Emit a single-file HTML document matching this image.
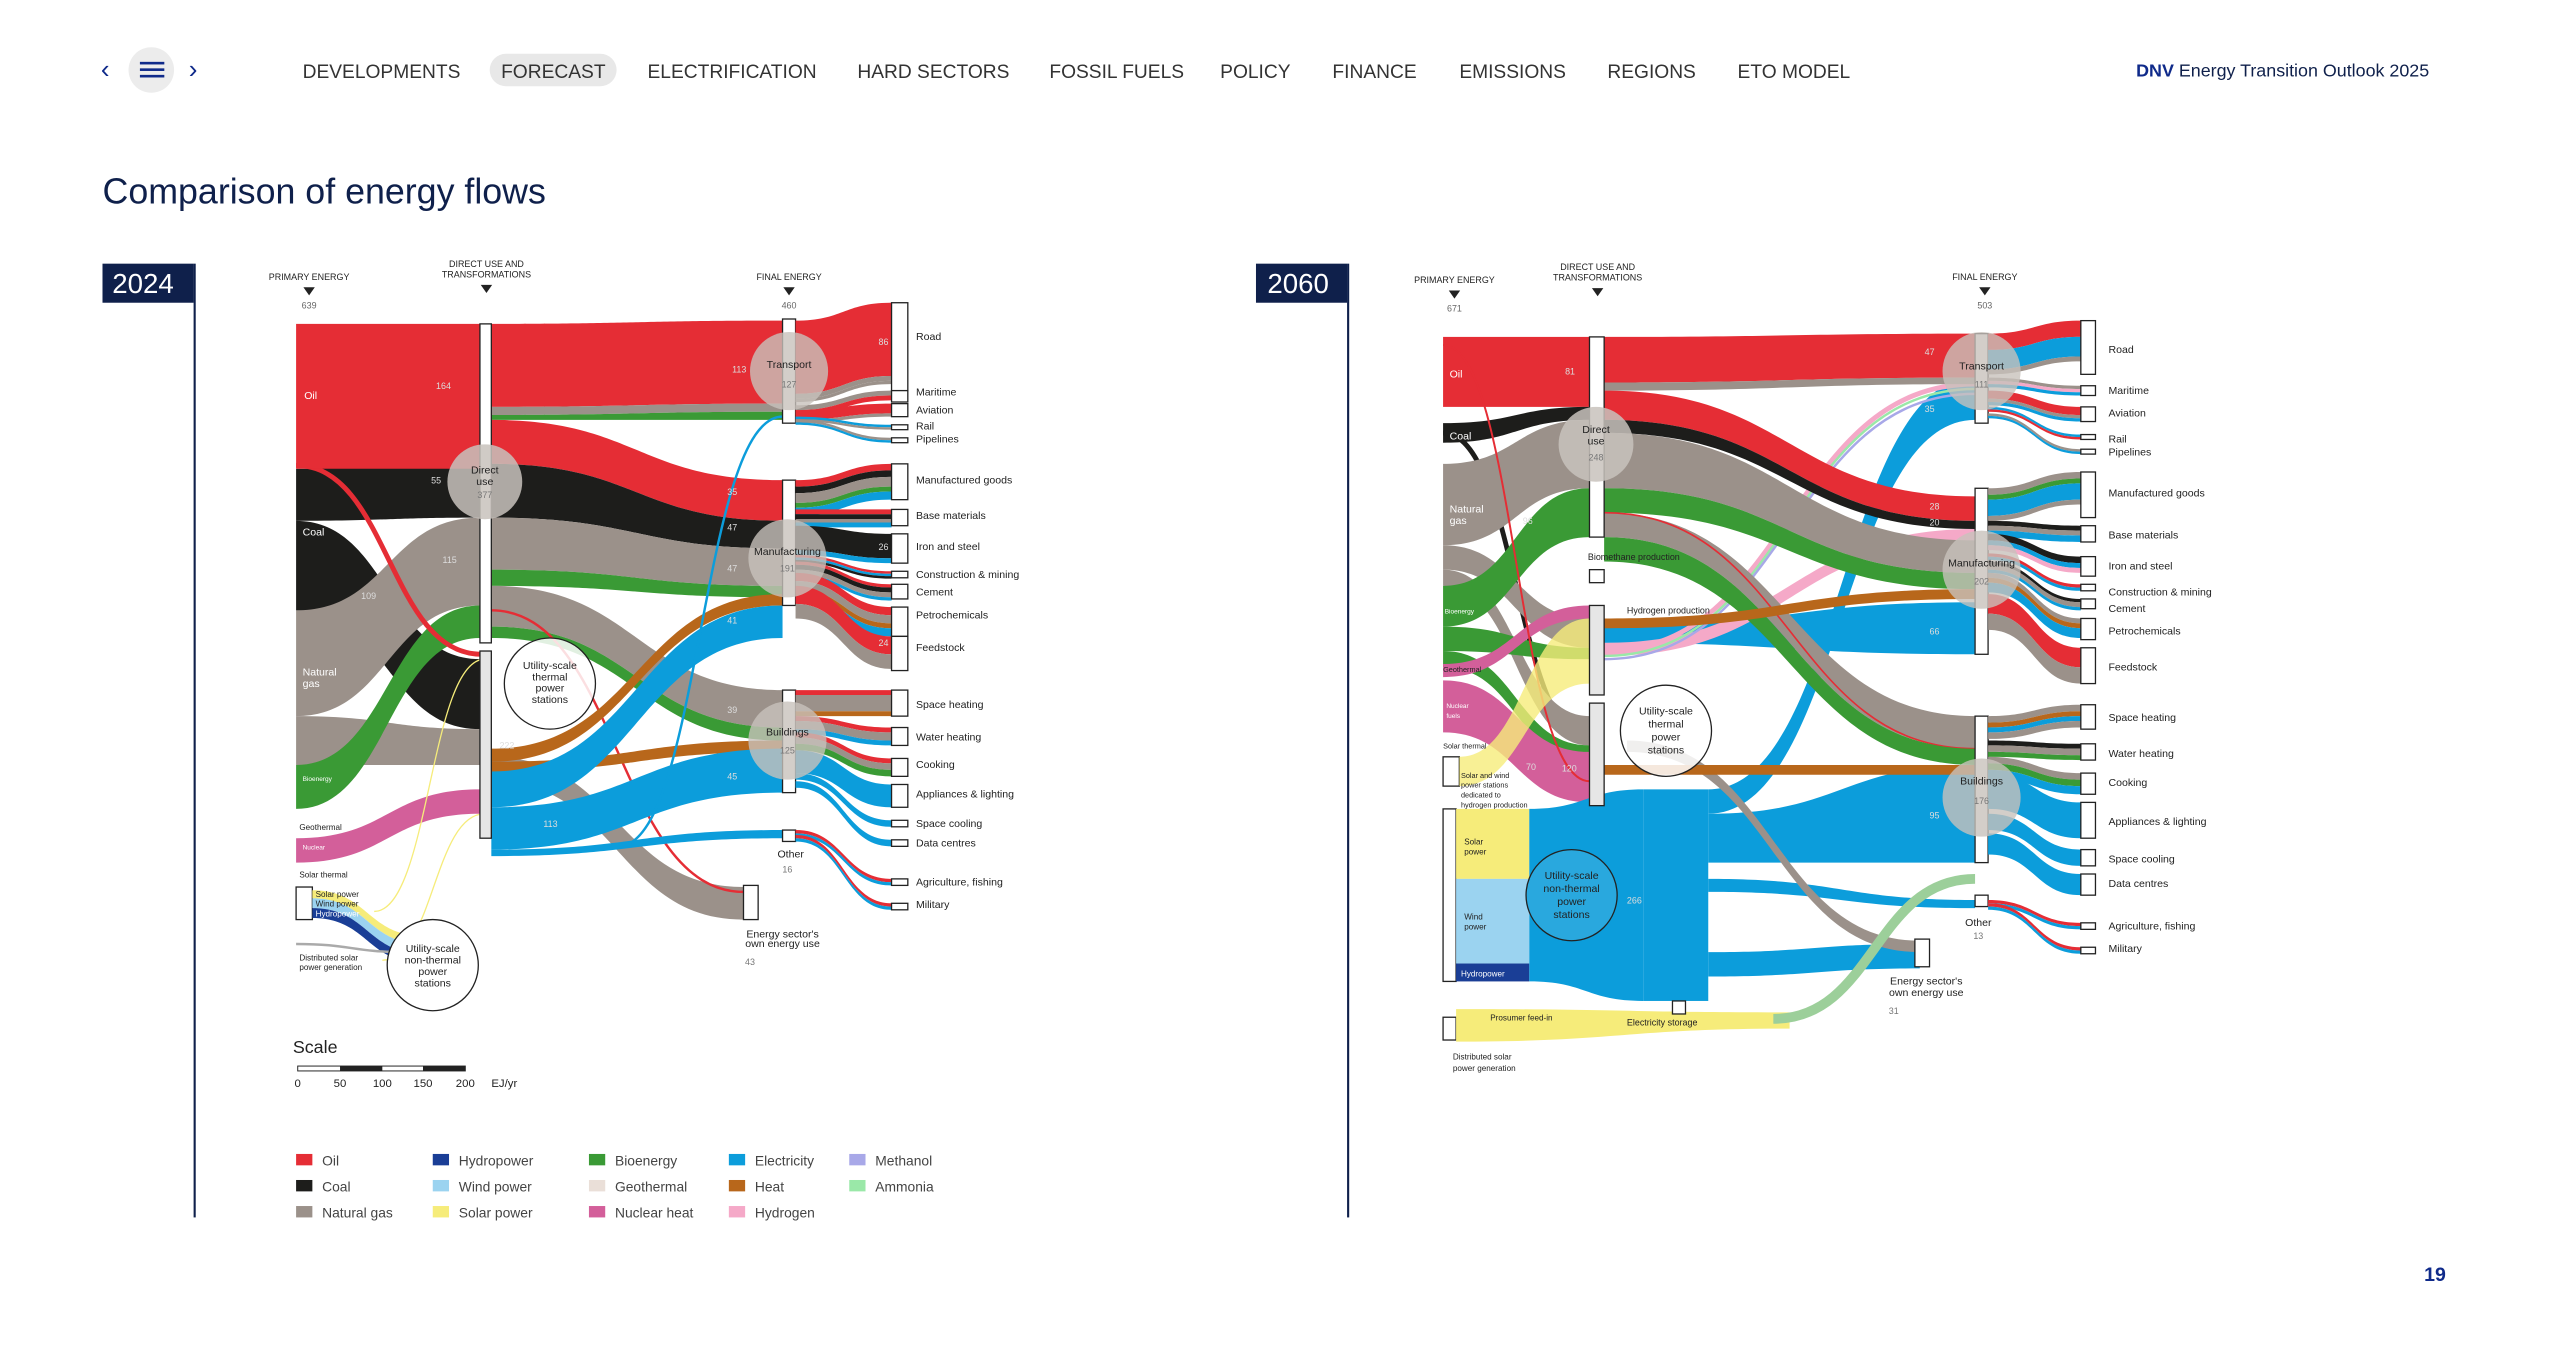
<!DOCTYPE html>
<html><head><meta charset="utf-8">
<style>
html,body{margin:0;padding:0;background:#fff;width:2551px;height:1346px;overflow:hidden}
svg{display:block}
text{font-family:"Liberation Sans",sans-serif}
</style></head>
<body>
<svg id="s" width="2551" height="1346" viewBox="0 0 1568 827" preserveAspectRatio="none" xmlns="http://www.w3.org/2000/svg">
<rect width="1568" height="827" fill="#fff"/>
<!-- nav -->
<text x="62" y="48" font-size="16" fill="#0f2a8a">&#8249;</text>
<circle cx="93" cy="43" r="14" fill="#ececec"/>
<rect x="86" y="38" width="15" height="1.6" fill="#0f2a8a"/><rect x="86" y="42" width="15" height="1.6" fill="#0f2a8a"/><rect x="86" y="46" width="15" height="1.6" fill="#0f2a8a"/>
<text x="116" y="48" font-size="16" fill="#0f2a8a">&#8250;</text>
<rect x="301" y="33" width="78" height="20" rx="10" fill="#e8e8e8"/>
<g font-size="11.8" fill="#333">
<text x="186" y="48">DEVELOPMENTS</text><text x="308" y="48">FORECAST</text><text x="398" y="48">ELECTRIFICATION</text><text x="527" y="48">HARD SECTORS</text><text x="645" y="48">FOSSIL FUELS</text><text x="750" y="48">POLICY</text><text x="819" y="48">FINANCE</text><text x="897" y="48">EMISSIONS</text><text x="988" y="48">REGIONS</text><text x="1068" y="48">ETO MODEL</text>
</g>
<text x="1313" y="47" font-size="11" fill="#0f204b"><tspan font-weight="bold" fill="#0f2a8a">DNV</tspan> Energy Transition Outlook 2025</text>
<text x="63" y="125" font-size="22" fill="#0f204b">Comparison of energy flows</text>
<text x="1490" y="787" font-size="12" fill="#0f2a8a" font-weight="bold">19</text>
<!-- year boxes -->
<rect x="63" y="162" width="56" height="24" fill="#0f204b"/><text x="69" y="180" font-size="17" fill="#fff">2024</text>
<rect x="119" y="162" width="1.3" height="586" fill="#0f204b"/>
<rect x="772" y="162" width="56" height="24" fill="#0f204b"/><text x="779" y="180" font-size="17" fill="#fff">2060</text>
<rect x="828" y="162" width="1.3" height="586" fill="#0f204b"/>
<g id="g"></g>
<g id="t" font-size="6.5" fill="#222"></g>
</svg>
<script>
var g=document.getElementById('g'),T=document.getElementById('t'),NS='http://www.w3.org/2000/svg';
function el(n,a,p){var e=document.createElementNS(NS,n);for(var k in a)e.setAttribute(k,a[k]);(p||g).appendChild(e);return e;}
var R='#e52d35',K='#1d1d1b',G='#9b918a',GR='#3a9a35',B='#0c9ddb',BR='#b8671b',P='#d35f9a',Y='#f6ec7a',NV='#1a3e96',LP='#f5a9c8',LB='#9bd3f0',LV='#a8a8e8',LG='#9ae8a8';
function band(x0,a0,b0,x1,a1,b1,c,o){var m=(x0+x1)/2;el('path',{d:'M'+x0+' '+a0+'C'+m+' '+a0+' '+m+' '+a1+' '+x1+' '+a1+'L'+x1+' '+b1+'C'+m+' '+b1+' '+m+' '+b0+' '+x0+' '+b0+'Z',fill:c,'fill-opacity':o||1});}
function line(x0,y0,x1,y1,c,w){var m=(x0+x1)/2;el('path',{d:'M'+x0+' '+y0+'C'+m+' '+y0+' '+m+' '+y1+' '+x1+' '+y1,fill:'none',stroke:c,'stroke-width':w||1});}
function rect(x,y,w,h,f,s){el('rect',{x:x,y:y,width:w,height:h,fill:f||'#fff',stroke:s||'#222','stroke-width':0.8});}
function txt(x,y,s,o){var e=el('text',{x:x,y:y},T);e.textContent=s;if(o)for(var k in o)e.setAttribute(k,o[k]);return e;}
function circ(x,y,r,f,s,o){el('circle',{cx:x,cy:y,r:r,fill:f,'fill-opacity':o||1,stroke:s||'none','stroke-width':0.8});}
function ends(x0,x1,list){list.forEach(function(d){
 var s=d[0],t=d[1];d[2].forEach(function(st){band(x0,s,s+st[0],x1,t,t+st[0],st[1]);s+=st[0];t+=st[0];});});}

/* ===== 2024 ===== */
band(182,320,375,295,405,448,K);
band(182,440,470,295,448,470,G);
band(182,288,320,295,282,318,K);
band(182,375,440,295,318,372,G);
band(182,470,497,295,372,392,GR);
band(182,515,530,295,485,500,P);
line(182,286,296,402,R,3);
el('rect',{x:182,y:199,width:113,height:89,fill:R});
rect(182,545,10,20);
band(192,547,552,260,575,580,Y);band(192,552,558,260,580,586,LB);band(192,558,564,260,586,592,NV);
line(182,580,250,585,'#aaa',1.5);
line(230,560,298,405,Y,0.8);line(235,590,298,500,Y,0.8);
band(302,199,250,481,197,248,R);
band(302,250,255,481,248,253,G);band(302,255,258,481,253,258,GR);
band(302,258,285,481,295,320,R);
band(302,285,318,481,320,337,K);
band(302,318,350,481,337,360,G);
band(302,350,360,481,360,367,GR);
band(302,360,385,481,424,447,G);
band(302,385,392,481,447,455,GR);
band(302,465,480,457,545,565,G);
line(302,375,457,548,R,1.5);
band(302,460,468,481,365,372,BR);
band(302,468,474,481,455,462,BR);
band(302,474,496,481,372,392,B);
band(302,496,522,481,460,487,B);
band(302,522,526,481,510,515,B);
line(380,520,481,256,B,1.5);
rect(295,199,7,196);el('rect',{x:295,y:400,width:7,height:115,fill:'#e6e6e6',stroke:'#222','stroke-width':0.8});
rect(481,196,8,64);rect(481,295,8,77);rect(481,424,8,63);rect(481,510,8,7);rect(457,544,9,21);
ends(489,548,[[197,186,[[45,R],[3,G],[2,G]]],[249,240,[[3,G],[3,R]]],[252,248,[[6,R],[2,G]]],[256,261,[[1.5,B],[1.5,G]]],[258,269,[[1.5,G],[1.5,B]]],
[295,285,[[4,R],[4,K],[6,G],[3,GR],[5,B]]],[313,313,[[3,R],[3,K],[2,G],[3,B]]],[323,328,[[15,K],[3,B]]],[341,351,[[1.5,R],[1.5,B],[1.5,K]]],[345,359,[[2,R],[3,K],[3,G],[2,B]]],[352,373,[[5,R],[5,G],[3,BR],[5,B]]],[360,391,[[11,R],[9,G]]],
[424,424,[[3,R],[10,G],[3,BR]]],[440,447,[[3,R],[5,G],[3,B]]],[450,466,[[3,R],[4,G],[4,GR]]],[461,482,[[14,B]]],[475,504,[[4,B]]],[480,516,[[4,B]]],[510,540,[[2,R],[2,B]]],[513,555,[[2,R],[2,B]]]]);
[[186,54],[240,7],[248,8],[261,3],[269,3],[285,22],[313,10],[328,18],[351,4],[359,9],[373,18],[391,21],[424,16],[447,11],[466,11],[482,14],[504,4],[516,4],[540,4],[555,4]].forEach(function(b){rect(548,b[0],10,b[1]);});
circ(298,296,23,'#c8c2bc','',0.85);circ(485,228,24,'#c8c2bc','',0.8);circ(484,343,24,'#c8c2bc','',0.8);circ(484,455,24,'#c8c2bc','',0.8);
circ(338,420,28,'#fff','#222',0.85);circ(266,593,28,'#fff','#222');
/* ===== 2060 ===== */
el('rect',{x:887,y:207,width:90,height:43,fill:R});
band(887,260,272,977,250,258,K);line(887,266,977,455,K,3);
band(887,285,335,977,258,300,G);band(887,335,350,977,380,398,G);band(887,350,360,977,440,458,G);
band(887,360,385,977,300,330,GR);band(887,385,400,977,398,405,GR);band(887,400,410,977,458,468,GR);
band(887,408,416,977,372,380,P);band(887,418,450,977,462,493,P);
line(887,212,977,480,R,1.2);
rect(887,465,10,18);band(897,465,483,977,380,420,Y,0.8);
el('rect',{x:887,y:497,width:8,height:106,fill:'#fff',stroke:'#222','stroke-width':0.8});
el('rect',{x:895,y:497,width:45,height:43,fill:Y});el('rect',{x:895,y:540,width:45,height:52,fill:LB});el('rect',{x:895,y:592,width:45,height:11,fill:NV});
band(940,497,603,1010,485,615,B);
el('rect',{x:1010,y:485,width:40,height:130,fill:B});
band(1050,485,500,1214,232,258,B);
band(986,385,395,1214,370,402,B);
band(1050,500,530,1214,470,530,B);
band(1050,585,600,1180,580,595,B);
band(1050,540,548,1214,553,558,B);
band(986,395,403,1214,325,332,LP);
line(986,400,1214,236,LP,3);line(986,403,1214,239,LG,1.5);line(986,405,1214,242,LV,1.5);
band(986,207,235,1214,205,232,R);
band(986,235,240,1214,232,236,G);
band(986,240,258,1214,305,320,R);
band(986,258,266,1214,320,325,K);
band(986,266,300,1214,332,352,G);
band(986,300,315,1214,352,362,GR);
band(986,315,330,1214,440,460,G);line(986,315,1214,460,R,1);
band(986,330,345,1214,460,470,GR);
band(1000,455,462,1180,578,585,G);
band(986,470,476,1214,470,476,BR);
band(986,380,386,1214,362,368,BR);
el('rect',{x:887,y:625,width:8,height:14,fill:'#fff',stroke:'#222','stroke-width':0.8});
band(895,620,640,1100,622,632,Y);
line(1090,626,1214,540,'#9ccf9a',6);
rect(977,207,9,123);rect(977,350,9,8);el('rect',{x:977,y:372,width:9,height:55,fill:'#e6e6e6',stroke:'#222','stroke-width':0.8});el('rect',{x:977,y:432,width:9,height:63,fill:'#e6e6e6',stroke:'#222','stroke-width':0.8});
rect(1214,205,8,55);rect(1214,300,8,102);rect(1214,440,8,90);rect(1214,550,8,7);rect(1177,577,9,17);rect(1028,615,8,8);
ends(1222,1279,[[205,197,[[10,R],[12,B],[3,G]]],[232,237,[[2,G],[2,LP],[2,B]]],[240,250,[[5,R],[2,G],[2,B]]],[250,267,[[1.5,B],[1.5,R]]],[254,276,[[1.5,G],[1.5,B]]],
[300,290,[[4,G],[3,GR],[10,B],[3,G]]],[320,323,[[3,K],[3,G],[4,B]]],[328,342,[[4,K],[3,B],[3,LP]]],[340,359,[[2,R],[2,B]]],[345,368,[[2,K],[3,G],[2,B]]],[352,380,[[3,G],[3,BR],[6,B]]],[365,398,[[12,R],[10,G]]],
[440,433,[[4,G],[3,BR],[3,B],[4,G]]],[455,457,[[3,K],[4,G],[3,GR]]],[465,475,[[4,G],[4,GR],[5,B]]],[475,493,[[22,B]]],[500,522,[[10,B]]],[512,537,[[13,B]]],[553,567,[[2,R],[2,B]]],[555,582,[[2,R],[2,B]]]]);
[[197,33],[237,6],[250,9],[267,3],[276,3],[290,28],[323,10],[342,12],[359,4],[368,6],[380,13],[398,22],[433,15],[457,10],[475,13],[493,22],[522,10],[537,13],[567,4],[582,4]].forEach(function(b){rect(1279,b[0],9,b[1]);});
circ(981,273,23,'#c8c2bc','',0.85);circ(1218,228,24,'#c8c2bc','',0.8);circ(1218,350,24,'#c8c2bc','',0.8);circ(1218,490,24,'#c8c2bc','',0.8);
circ(1024,449,28,'#fff','#222',0.85);circ(966,550,28,'#29a8de','#222');
/* ===== text ===== */
function H(x,y,lines,n){lines.forEach(function(l,i){txt(x,y+i*6.5,l,{'text-anchor':'middle','font-size':'5.5'});});el('path',{d:'M'+(x-3.5)+' '+(y+lines.length*6.5-2)+'h7l-3.5 5z',fill:'#222'},T);txt(x,y+lines.length*6.5+11,n,{'text-anchor':'middle','font-size':'5.5',fill:'#666'});}
H(190,172,['PRIMARY ENERGY'],'639');H(299,164,['DIRECT USE AND','TRANSFORMATIONS'],'');H(485,172,['FINAL ENERGY'],'460');
H(894,174,['PRIMARY ENERGY'],'671');H(982,166,['DIRECT USE AND','TRANSFORMATIONS'],'');H(1220,172,['FINAL ENERGY'],'503');
var W={fill:'#fff'};
txt(187,245,'Oil',W);txt(186,329,'Coal',W);txt(186,415,'Natural',W);txt(186,422,'gas',W);txt(186,480,'Bioenergy',{fill:'#fff','font-size':'4'});
txt(184,510,'Geothermal',{'font-size':'5'});txt(186,522,'Nuclear',{fill:'#fff','font-size':'4'});txt(184,539,'Solar thermal',{'font-size':'5'});
txt(194,551,'Solar power',{'font-size':'5'});txt(194,557,'Wind power',{'font-size':'5'});txt(194,563,'Hydropower',{'font-size':'5',fill:'#fff'});
txt(184,590,'Distributed solar',{'font-size':'5'});txt(184,596,'power generation',{'font-size':'5'});
[[298,291,'Direct'],[298,298,'use'],[485,226,'Transport'],[484,341,'Manufacturing'],[484,452,'Buildings'],[338,411,'Utility-scale'],[338,418,'thermal'],[338,425,'power'],[338,432,'stations'],[266,585,'Utility-scale'],[266,592,'non-thermal'],[266,599,'power'],[266,606,'stations'],[486,527,'Other'],[481,576,"Energy sector's"],[481,582,'own energy use']].forEach(function(a){txt(a[0],a[1],a[2],{'text-anchor':'middle'});});
[[298,306,'377'],[485,238,'127'],[484,351,'191'],[484,463,'125'],[484,536,'16'],[461,593,'43']].forEach(function(a){txt(a[0],a[1],a[2],{'text-anchor':'middle',fill:'#777','font-size':'5.5'});});
[[563,209,'Road'],[563,243,'Maritime'],[563,254,'Aviation'],[563,264,'Rail'],[563,272,'Pipelines'],[563,297,'Manufactured goods'],[563,319,'Base materials'],[563,338,'Iron and steel'],[563,355,'Construction & mining'],[563,366,'Cement'],[563,380,'Petrochemicals'],[563,400,'Feedstock'],[563,435,'Space heating'],[563,455,'Water heating'],[563,472,'Cooking'],[563,490,'Appliances & lighting'],[563,508,'Space cooling'],[563,520,'Data centres'],[563,544,'Agriculture, fishing'],[563,558,'Military']].forEach(function(a){txt(a[0],a[1],a[2]);});
[[268,239,'164'],[450,229,'113'],[540,212,'86'],[447,304,'35'],[447,326,'47'],[447,351,'47'],[222,368,'109'],[272,346,'115'],[265,297,'55'],[540,338,'26'],[447,383,'41'],[540,397,'24'],[447,438,'39'],[447,479,'45'],[307,460,'222'],[334,508,'113']].forEach(function(a){txt(a[0],a[1],a[2],{fill:'#ddd','font-size':'5.5'});});
txt(891,232,'Oil',W);txt(891,270,'Coal',W);txt(891,315,'Natural',W);txt(891,322,'gas',W);txt(888,377,'Bioenergy',{fill:'#fff','font-size':'4'});
txt(887,413,'Geothermal',{'font-size':'4.5'});txt(889,435,'Nuclear',{fill:'#fff','font-size':'4'});txt(889,441,'fuels',{fill:'#fff','font-size':'4'});txt(887,460,'Solar thermal',{'font-size':'4.5'});
txt(898,478,'Solar and wind',{'font-size':'4.5'});txt(898,484,'power stations',{'font-size':'4.5'});txt(898,490,'dedicated to',{'font-size':'4.5'});txt(898,496,'hydrogen production',{'font-size':'4.5'});
txt(900,519,'Solar',{'font-size':'5'});txt(900,525,'power',{'font-size':'5'});txt(900,565,'Wind',{'font-size':'5'});txt(900,571,'power',{'font-size':'5'});txt(898,600,'Hydropower',{'font-size':'5',fill:'#fff'});
txt(893,651,'Distributed solar',{'font-size':'5'});txt(893,658,'power generation',{'font-size':'5'});txt(916,627,'Prosumer feed-in',{'font-size':'5'});
txt(976,344,'Biomethane production',{'font-size':'5.5'});txt(1000,377,'Hydrogen production',{'font-size':'5.5'});txt(1000,630,'Electricity storage',{'font-size':'5.5'});
[[981,266,'Direct'],[981,273,'use'],[1218,227,'Transport'],[1218,348,'Manufacturing'],[1218,482,'Buildings'],[1024,439,'Utility-scale'],[1024,447,'thermal'],[1024,455,'power'],[1024,463,'stations'],[966,540,'Utility-scale'],[966,548,'non-thermal'],[966,556,'power'],[966,564,'stations'],[1216,569,'Other'],[1184,605,"Energy sector's"],[1184,612,'own energy use']].forEach(function(a){txt(a[0],a[1],a[2],{'text-anchor':'middle'});});
[[981,283,'248'],[1218,238,'111'],[1218,359,'202'],[1218,494,'176'],[1216,577,'13'],[1164,623,'31']].forEach(function(a){txt(a[0],a[1],a[2],{'text-anchor':'middle',fill:'#777','font-size':'5.5'});});
[[1296,217,'Road'],[1296,242,'Maritime'],[1296,256,'Aviation'],[1296,272,'Rail'],[1296,280,'Pipelines'],[1296,305,'Manufactured goods'],[1296,331,'Base materials'],[1296,350,'Iron and steel'],[1296,366,'Construction & mining'],[1296,376,'Cement'],[1296,390,'Petrochemicals'],[1296,412,'Feedstock'],[1296,443,'Space heating'],[1296,465,'Water heating'],[1296,483,'Cooking'],[1296,507,'Appliances & lighting'],[1296,530,'Space cooling'],[1296,545,'Data centres'],[1296,571,'Agriculture, fishing'],[1296,585,'Military']].forEach(function(a){txt(a[0],a[1],a[2]);});
[[962,230,'81'],[1183,218,'47'],[1183,253,'35'],[1186,313,'28'],[1186,323,'20'],[936,322,'96'],[1000,555,'266'],[1186,390,'66'],[1186,503,'95'],[960,474,'120'],[938,473,'70']].forEach(function(a){txt(a[0],a[1],a[2],{fill:'#ddd','font-size':'5.5'});});
txt(180,647,'Scale',{'font-size':'11'});
el('rect',{x:183,y:655,width:103,height:3,fill:'#fff',stroke:'#222','stroke-width':0.6});
el('rect',{x:209,y:655,width:26,height:3,fill:'#222'});el('rect',{x:260,y:655,width:26,height:3,fill:'#222'});
[[183,'0'],[209,'50'],[235,'100'],[260,'150'],[286,'200']].forEach(function(a){txt(a[0],668,a[1],{'text-anchor':'middle','font-size':'7'});});txt(302,668,'EJ/yr',{'font-size':'7'});
var L=[[182,R,'Oil'],[182,K,'Coal'],[182,G,'Natural gas'],[266,NV,'Hydropower'],[266,LB,'Wind power'],[266,Y,'Solar power'],[362,GR,'Bioenergy'],[362,'#eadfd8','Geothermal'],[362,P,'Nuclear heat'],[448,B,'Electricity'],[448,BR,'Heat'],[448,LP,'Hydrogen'],[522,LV,'Methanol'],[522,LG,'Ammonia']];
var cnt={};L.forEach(function(l){var i=cnt[l[0]]||0;cnt[l[0]]=i+1;var y=709+i*16;el('rect',{x:l[0],y:y,width:10,height:7,fill:l[1]});txt(l[0]+16,y+7,l[2],{'font-size':'8.5',fill:'#444'});});
</script>
</body></html>
